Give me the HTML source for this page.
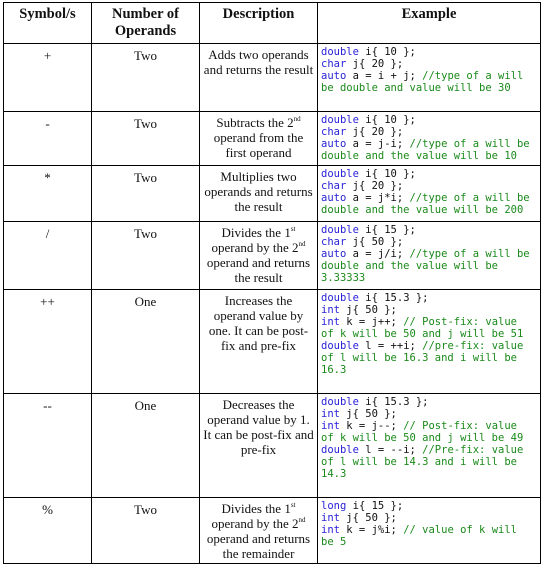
<!DOCTYPE html>
<html><head><meta charset="utf-8"><style>
html,body{margin:0;padding:0;background:#fff;width:542px;height:566px;overflow:hidden}
table{position:absolute;left:3px;top:2px;border-collapse:collapse;table-layout:fixed;width:537px}
td,th{border:1px solid #000;vertical-align:top;padding:0;font-family:"Liberation Serif",serif;font-size:13px;line-height:15px;color:#111;text-align:center}
th{font-weight:bold;font-size:14.5px;line-height:17px;padding-top:3px;vertical-align:top}
td.d{padding:3px 2px 0 2px}
td.s,td.n{padding-top:4px}
td.c{text-align:left;font-family:"DejaVu Sans Mono","Liberation Mono",monospace;font-size:10.5px;line-height:12px;padding:2px 0 0 3px;white-space:pre;color:#111}
.k{color:#2a22d8}.g{color:#1a8a1a}
sup{font-size:7px;line-height:0;vertical-align:6px}
</style></head><body>
<table>
<colgroup><col style="width:88px"><col style="width:108px"><col style="width:118px"><col style="width:223px"></colgroup>
<tr style="height:41px"><th>Symbol/s</th><th>Number of<br>Operands</th><th>Description</th><th>Example</th></tr>
<tr style="height:68px"><td class="s">+</td><td class="n">Two</td><td class="d">Adds two operands and returns the result</td><td class="c"><span class="k">double</span> i{ 10 };
<span class="k">char</span> j{ 20 };
<span class="k">auto</span> a = i + j; <span class="g">//type of a will
be double and value will be 30</span></td></tr>
<tr style="height:54px"><td class="s">-</td><td class="n">Two</td><td class="d">Subtracts the 2<sup>nd</sup> operand from the first operand</td><td class="c"><span class="k">double</span> i{ 10 };
<span class="k">char</span> j{ 20 };
<span class="k">auto</span> a = j-i; <span class="g">//type of a will be
double and the value will be 10</span></td></tr>
<tr style="height:56px"><td class="s">*</td><td class="n">Two</td><td class="d">Multiplies two operands and returns the result</td><td class="c"><span class="k">double</span> i{ 10 };
<span class="k">char</span> j{ 20 };
<span class="k">auto</span> a = j*i; <span class="g">//type of a will be
double and the value will be 200</span></td></tr>
<tr style="height:68px"><td class="s">/</td><td class="n">Two</td><td class="d">Divides the 1<sup>st</sup> operand by the 2<sup>nd</sup> operand and returns the result</td><td class="c"><span class="k">double</span> i{ 15 };
<span class="k">char</span> j{ 50 };
<span class="k">auto</span> a = j/i; <span class="g">//type of a will be
double and the value will be
3.33333</span></td></tr>
<tr style="height:104px"><td class="s">++</td><td class="n">One</td><td class="d" style="padding-left:8px;padding-right:8px">Increases the operand value by one. It can be post-fix and pre-fix</td><td class="c"><span class="k">double</span> i{ 15.3 };
<span class="k">int</span> j{ 50 };
<span class="k">int</span> k = j++; <span class="g">// Post-fix: value
of k will be 50 and j will be 51</span>
<span class="k">double</span> l = ++i; <span class="g">//pre-fix: value
of l will be 16.3 and i will be
16.3</span></td></tr>
<tr style="height:104px"><td class="s">--</td><td class="n">One</td><td class="d" style="padding-left:0;padding-right:0;white-space:nowrap">Decreases the<br>operand value by 1.<br>It can be post-fix and<br>pre-fix</td><td class="c"><span class="k">double</span> i{ 15.3 };
<span class="k">int</span> j{ 50 };
<span class="k">int</span> k = j--; <span class="g">// Post-fix: value
of k will be 50 and j will be 49</span>
<span class="k">double</span> l = --i; <span class="g">//Pre-fix: value
of l will be 14.3 and i will be
14.3</span></td></tr>
<tr style="height:66px"><td class="s">%</td><td class="n">Two</td><td class="d">Divides the 1<sup>st</sup> operand by the 2<sup>nd</sup> operand and returns the remainder</td><td class="c"><span class="k">long</span> i{ 15 };
<span class="k">int</span> j{ 50 };
<span class="k">int</span> k = j%i; <span class="g">// value of k will
be 5</span></td></tr>
</table>
</body></html>
